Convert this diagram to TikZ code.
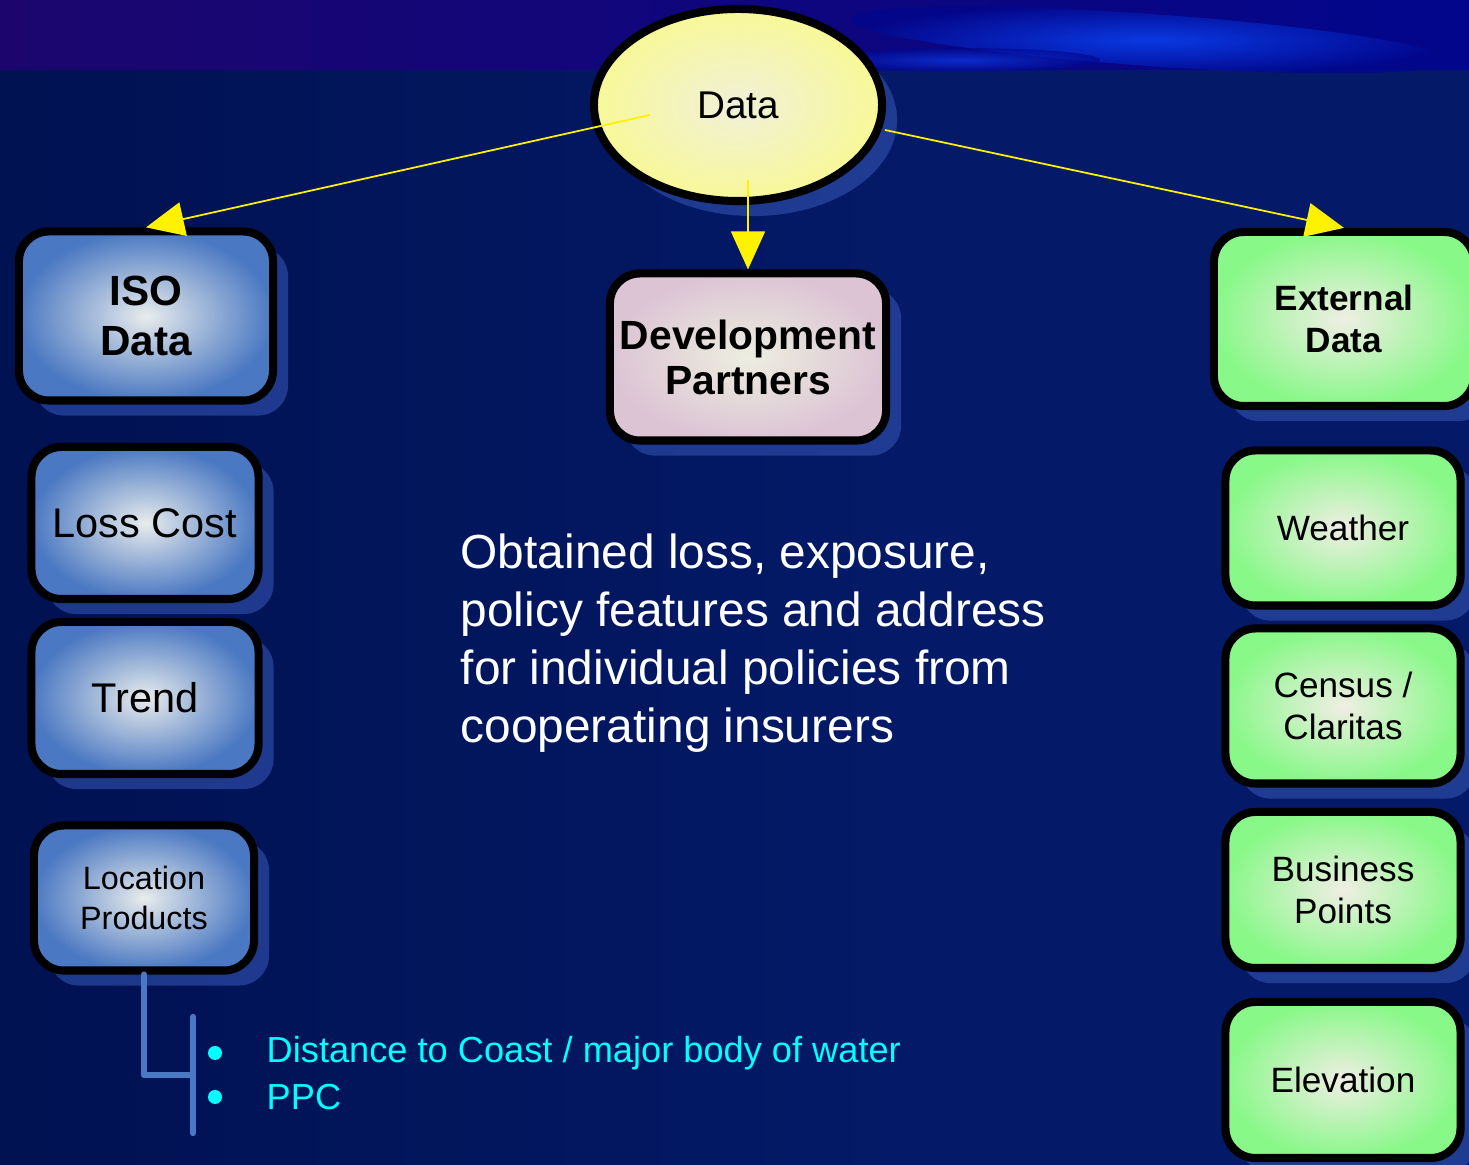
\documentclass[tikz,border=0pt]{standalone}
\usepackage{fontspec}
\setmainfont{Liberation Sans}
\usetikzlibrary{arrows.meta, positioning, shapes.geometric, shadows}
\usepackage{xcolor}
\definecolor{navybg}{RGB}{4,26,104}
\definecolor{navydark}{RGB}{0,16,76}
\definecolor{bandblue}{RGB}{2,6,140}
\definecolor{bandviolet}{RGB}{28,6,110}
\definecolor{streakblue}{RGB}{10,70,250}
\definecolor{isoedge}{RGB}{74,120,194}
\definecolor{isocore}{RGB}{232,236,236}
\definecolor{extedge}{RGB}{136,248,136}
\definecolor{extcore}{RGB}{240,238,228}
\definecolor{devedge}{RGB}{220,196,212}
\definecolor{devcore}{RGB}{236,238,224}
\definecolor{dataedge}{RGB}{248,248,152}
\definecolor{datacore}{RGB}{240,240,216}
\definecolor{shadowcol}{RGB}{46,78,170}
\definecolor{linkcol}{RGB}{74,120,194}
\definecolor{itemcol}{RGB}{0,255,255}

\begin{document}
\begin{tikzpicture}[x=0.01cm, y=-0.01cm,
  card/.style={draw=black, line width=2.3pt, rounded corners=0.3cm, align=center,
    inner sep=0pt,
    drop shadow={shadow xshift=0.15cm, shadow yshift=-0.15cm, fill=shadowcol, opacity=0.65}},
  isobox/.style={card, inner color=isocore, outer color=isoedge},
  extbox/.style={card, inner color=extcore, outer color=extedge},
  devbox/.style={card, inner color=devcore, outer color=devedge},
  arrow/.style={-{Triangle[length=0.38cm, width=0.34cm]}, draw=yellow, fill=yellow, line width=0.5pt},
  bracket/.style={draw=linkcol, line width=1.8pt, line cap=round, line join=round}
]
% background
\fill[navybg] (0,0) rectangle (1469,1165);
\shade[left color=navydark, right color=navybg, opacity=0.8] (0,70) rectangle (900,1165);
\shade[left color=bandviolet, right color=bandblue] (0,0) rectangle (1469,70);
\shade[inner color=streakblue, outer color=bandblue, opacity=0.8, rotate around={-4:(1150,40)}] (1150,40) ellipse (300 and 26);
\shade[inner color=streakblue, outer color=bandblue, opacity=0.6] (960,60) ellipse (140 and 12);
\useasboundingbox (0,0) rectangle (1469,1165);

% top
\node[ellipse, draw=black, line width=2.3pt, minimum width=2.88cm, minimum height=1.92cm,
  inner color=datacore, outer color=dataedge,
  drop shadow={shadow xshift=0.15cm, shadow yshift=-0.15cm, fill=shadowcol, opacity=0.65},
  font=\fontsize{11}{13}\selectfont] (data) at (738,105) {Data};

% left column
\node[isobox, minimum width=2.54cm, minimum height=1.69cm, font=\fontsize{12}{14}\selectfont\bfseries] (iso) at (146,316) {ISO\\Data};
\node[isobox, minimum width=2.27cm, minimum height=1.52cm, font=\fontsize{11.8}{13}\selectfont] (loss) at (145,523) {Loss Cost};
\node[isobox, minimum width=2.27cm, minimum height=1.52cm, font=\fontsize{11.8}{13}\selectfont] (trend) at (145,698) {Trend};
\node[isobox, minimum width=2.20cm, minimum height=1.45cm, font=\fontsize{9.2}{11.4}\selectfont] (loc) at (144,898) {Location\\Products};

% middle
\node[devbox, minimum width=2.76cm, minimum height=1.67cm, font=\fontsize{11.6}{12.8}\selectfont\bfseries] (dev) at (748,357) {Development\\Partners};
\node[anchor=north west, align=left, text=white, inner sep=0pt,
  font=\fontsize{13.6}{16.5}\selectfont] (note) at (460,533)
  {Obtained loss, exposure,\\policy features and address\\for individual policies from\\cooperating insurers};

% right column
\node[extbox, minimum width=2.60cm, minimum height=1.74cm, font=\fontsize{10}{12}\selectfont\bfseries] (ext) at (1344,319) {External\\Data};
\node[extbox, minimum width=2.35cm, minimum height=1.55cm, font=\fontsize{10}{11.7}\selectfont] (weather) at (1343,528) {Weather};
\node[extbox, minimum width=2.35cm, minimum height=1.55cm, font=\fontsize{10}{11.7}\selectfont] (census) at (1343,706) {Census /\\Claritas};
\node[extbox, minimum width=2.35cm, minimum height=1.56cm, font=\fontsize{10}{11.9}\selectfont] (business) at (1343,890) {Business\\Points};
\node[extbox, minimum width=2.35cm, minimum height=1.56cm, font=\fontsize{10}{11.7}\selectfont] (elev) at (1343,1080) {Elevation};

% arrows out of Data
\coordinate (dataL) at (650,115);
\coordinate (dataR) at (885,130);
\coordinate (dataD) at (748,180);
\draw[arrow] (dataL) -- (iso.north);
\draw[arrow] (dataR) -- (ext.north);
\draw[arrow] (dataD) -- (dev.north);

% location details
\coordinate (knee) at (193,1075);
\coordinate (barTop) at (193,1017);
\coordinate (barBot) at (193,1133);
\draw[bracket] (loc.south) |- (knee);
\draw[bracket] (barTop) -- (barBot);
\fill[itemcol] (215,1053) circle (7) node[right=0.51cm, text=itemcol, inner sep=0pt, font=\fontsize{10.3}{12}\selectfont] (dist) {Distance to Coast / major body of water};
\fill[itemcol] (215,1097) circle (7) node[right=0.51cm, text=itemcol, inner sep=0pt, font=\fontsize{10.3}{12}\selectfont] (ppc) {PPC};
\end{tikzpicture}
\end{document}
